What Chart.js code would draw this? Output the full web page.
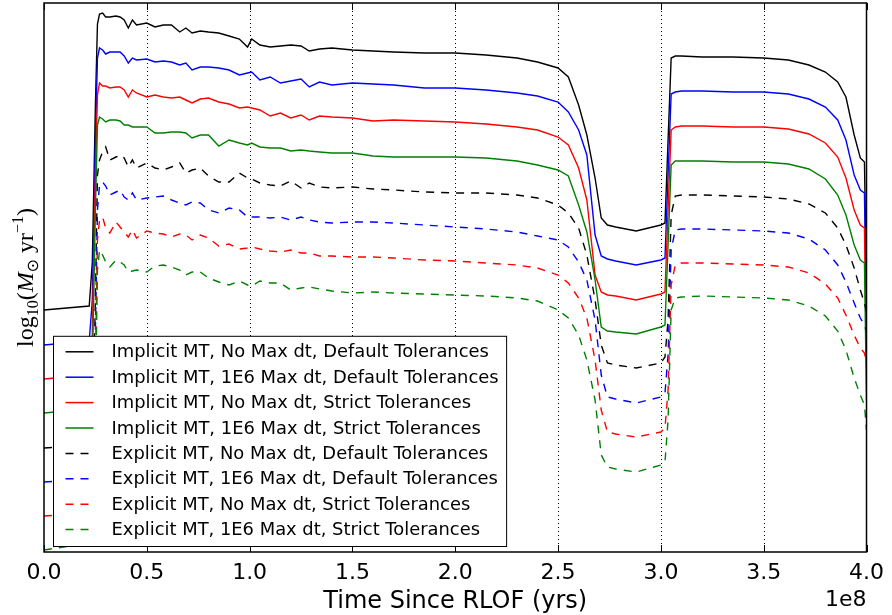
<!DOCTYPE html>
<html>
<head>
<meta charset="utf-8">
<script src="https://cdn.jsdelivr.net/npm/chart.js@4.4.0/dist/chart.umd.min.js"></script>
<style>
  html, body { margin: 0; padding: 0; background: #fff; }
  #wrap { width: 892px; height: 615px; }
</style>
</head>
<body>
<div id="wrap"><canvas id="mt_chart" width="892" height="615"></canvas></div>
<script>
// time since RLOF, in units of 1e8 yr
const times = [
  0, 0.22, 0.235, 0.25, 0.26, 0.27, 0.285, 0.30, 0.32, 0.35, 0.37, 0.39,
  0.41, 0.43, 0.45, 0.50, 0.54, 0.58, 0.62, 0.66, 0.69, 0.72, 0.76, 0.80,
  0.85, 0.90, 0.95, 0.99, 1.01, 1.05, 1.10, 1.15, 1.20, 1.25, 1.29, 1.34,
  1.40, 1.50, 1.60, 1.70, 1.85, 2.00, 2.15, 2.30, 2.40, 2.50, 2.55, 2.60,
  2.64, 2.68, 2.71, 2.74, 2.78, 2.88, 3.00, 3.02, 3.035, 3.05, 3.07, 3.10,
  3.20, 3.35, 3.50, 3.62, 3.72, 3.80, 3.86, 3.90, 3.94, 3.97, 3.99, 4.00
];

// log10 mass transfer rate for each run
const implicitNoMaxDefault = [
  -9.10, -9.06, -8.62, -7.05, -6.24, -6.14, -6.13, -6.17, -6.17, -6.16, -6.17, -6.20,
  -6.28, -6.20, -6.25, -6.23, -6.27, -6.25, -6.25, -6.32, -6.28, -6.33, -6.31, -6.32,
  -6.33, -6.36, -6.39, -6.47, -6.39, -6.45, -6.47, -6.46, -6.45, -6.46, -6.51, -6.49,
  -6.48, -6.50, -6.51, -6.52, -6.53, -6.53, -6.55, -6.58, -6.62, -6.68, -6.77, -7.05,
  -7.35, -7.78, -8.18, -8.25, -8.27, -8.31, -8.25, -8.23, -7.40, -6.58, -6.56, -6.56,
  -6.57, -6.57, -6.58, -6.60, -6.65, -6.72, -6.82, -6.97, -7.35, -7.58, -7.62, -8.90
];
const implicit1e6Default = [
  -9.45, -9.41, -9.00, -7.40, -6.58, -6.48, -6.50, -6.54, -6.52, -6.52, -6.52, -6.56,
  -6.63, -6.58, -6.60, -6.59, -6.62, -6.61, -6.62, -6.65, -6.63, -6.70, -6.67, -6.67,
  -6.68, -6.70, -6.75, -6.73, -6.72, -6.80, -6.77, -6.83, -6.81, -6.79, -6.87, -6.82,
  -6.85, -6.83, -6.84, -6.85, -6.88, -6.88, -6.90, -6.93, -6.96, -7.02, -7.12, -7.30,
  -7.55, -8.35, -8.56, -8.59, -8.61, -8.65, -8.60, -8.58, -7.75, -6.94, -6.92, -6.91,
  -6.91, -6.92, -6.92, -6.94, -6.99, -7.07, -7.20, -7.40, -7.75, -7.90, -7.93, -9.30
];
const implicitNoMaxStrict = [
  -9.79, -9.75, -9.35, -7.75, -6.95, -6.83, -6.86, -6.86, -6.88, -6.87, -6.87, -6.90,
  -6.97, -6.90, -6.93, -6.97, -6.95, -6.97, -6.98, -6.97, -7.00, -7.03, -6.99, -6.98,
  -7.02, -7.04, -7.08, -7.07, -7.08, -7.10, -7.16, -7.13, -7.18, -7.15, -7.20, -7.16,
  -7.17, -7.18, -7.21, -7.20, -7.21, -7.22, -7.24, -7.27, -7.30, -7.37, -7.45, -7.68,
  -8.00, -8.75, -8.92, -8.95, -8.96, -9.00, -8.94, -8.92, -8.10, -7.30, -7.27, -7.26,
  -7.26, -7.27, -7.27, -7.29, -7.34, -7.43, -7.57, -7.78, -8.10, -8.25, -8.28, -9.65
];
const implicit1e6Strict = [
  -10.13, -10.09, -9.70, -8.10, -7.25, -7.17, -7.19, -7.22, -7.20, -7.20, -7.21, -7.25,
  -7.25, -7.27, -7.27, -7.27, -7.33, -7.33, -7.32, -7.32, -7.33, -7.38, -7.35, -7.35,
  -7.46, -7.40, -7.43, -7.45, -7.43, -7.47, -7.48, -7.48, -7.51, -7.50, -7.51, -7.52,
  -7.53, -7.53, -7.56, -7.57, -7.57, -7.57, -7.58, -7.61, -7.65, -7.70, -7.76, -8.05,
  -8.32, -8.80, -9.27, -9.31, -9.32, -9.34, -9.27, -9.25, -8.45, -7.65, -7.61, -7.61,
  -7.61, -7.62, -7.62, -7.64, -7.69, -7.79, -7.95, -8.15, -8.45, -8.60, -8.63, -10.00
];
const explicitNoMaxDefault = [
  -10.48, -10.45, -10.40, -9.00, -7.75, -7.60, -7.52, -7.47, -7.60, -7.57, -7.55, -7.58,
  -7.67, -7.60, -7.68, -7.63, -7.68, -7.70, -7.67, -7.63, -7.73, -7.70, -7.68, -7.76,
  -7.82, -7.82, -7.73, -7.78, -7.79, -7.83, -7.85, -7.86, -7.81, -7.88, -7.83, -7.87,
  -7.88, -7.87, -7.89, -7.90, -7.92, -7.93, -7.93, -7.95, -7.98, -8.05, -8.13, -8.28,
  -8.55, -9.00, -9.45, -9.63, -9.65, -9.68, -9.63, -9.57, -9.20, -8.15, -7.96, -7.95,
  -7.95, -7.96, -7.97, -7.99, -8.04, -8.13, -8.28, -8.45, -8.68, -8.90, -9.03, -9.12
];
const explicit1e6Default = [
  -10.82, -10.79, -10.70, -9.30, -8.10, -7.85, -7.82, -7.86, -7.95, -7.92, -7.90, -7.97,
  -8.00, -7.93, -8.00, -7.98, -7.97, -7.96, -8.00, -8.03, -8.05, -8.02, -8.03, -8.10,
  -8.13, -8.08, -8.10, -8.17, -8.17, -8.17, -8.18, -8.17, -8.20, -8.17, -8.20, -8.22,
  -8.23, -8.22, -8.22, -8.23, -8.25, -8.27, -8.29, -8.32, -8.36, -8.40, -8.47, -8.62,
  -8.80, -9.20, -9.75, -9.97, -9.99, -10.03, -9.97, -9.93, -9.55, -8.50, -8.30, -8.29,
  -8.29, -8.30, -8.31, -8.33, -8.39, -8.50, -8.65, -8.82, -9.03, -9.18, -9.25, -9.32
];
const explicitNoMaxStrict = [
  -11.16, -11.13, -11.05, -9.60, -8.40, -8.20, -8.17, -8.28, -8.33, -8.22, -8.27, -8.32,
  -8.37, -8.30, -8.38, -8.31, -8.33, -8.34, -8.37, -8.34, -8.35, -8.40, -8.35, -8.38,
  -8.46, -8.44, -8.49, -8.48, -8.47, -8.49, -8.51, -8.52, -8.50, -8.53, -8.53, -8.56,
  -8.56, -8.57, -8.57, -8.58, -8.60, -8.61, -8.63, -8.65, -8.68, -8.75, -8.83, -8.98,
  -9.18, -9.60, -10.10, -10.32, -10.34, -10.37, -10.32, -10.28, -9.90, -8.85, -8.65, -8.63,
  -8.63, -8.64, -8.65, -8.67, -8.73, -8.84, -8.98, -9.15, -9.35, -9.48, -9.53, -9.62
];
const explicit1e6Strict = [
  -11.50, -11.43, -11.40, -10.00, -8.70, -8.50, -8.55, -8.62, -8.67, -8.60, -8.62, -8.65,
  -8.72, -8.71, -8.70, -8.72, -8.66, -8.65, -8.67, -8.70, -8.75, -8.72, -8.72, -8.78,
  -8.82, -8.85, -8.81, -8.85, -8.86, -8.81, -8.83, -8.83, -8.90, -8.88, -8.87, -8.89,
  -8.91, -8.93, -8.92, -8.93, -8.94, -8.95, -8.96, -8.98, -9.01, -9.10, -9.18, -9.35,
  -9.60, -10.00, -10.55, -10.67, -10.69, -10.72, -10.65, -10.62, -10.20, -9.10, -8.98, -8.97,
  -8.96, -8.97, -8.98, -9.00, -9.06, -9.16, -9.31, -9.50, -9.78, -9.95, -10.05, -10.30
];

const seriesLabels = [
  "Implicit MT, No Max dt, Default Tolerances",
  "Implicit MT, 1E6 Max dt, Default Tolerances",
  "Implicit MT, No Max dt, Strict Tolerances",
  "Implicit MT, 1E6 Max dt, Strict Tolerances",
  "Explicit MT, No Max dt, Default Tolerances",
  "Explicit MT, 1E6 Max dt, Default Tolerances",
  "Explicit MT, No Max dt, Strict Tolerances",
  "Explicit MT, 1E6 Max dt, Strict Tolerances"
];
const seriesValues = [
  implicitNoMaxDefault, implicit1e6Default, implicitNoMaxStrict, implicit1e6Strict,
  explicitNoMaxDefault, explicit1e6Default, explicitNoMaxStrict, explicit1e6Strict
];
const seriesColors = ["#000000", "#0000ff", "#ff0000", "#008000"];
const xLabel = "Time Since RLOF (yrs)";
const xOffsetText = "1e8";

const DASH = [8, 7];

const datasets = seriesValues.map(function (vals, i) {
  return {
    label: seriesLabels[i],
    data: times.map(function (t, j) { return { x: t, y: vals[j] }; }),
    borderColor: seriesColors[i % 4],
    borderWidth: 1.4,
    borderDash: i < 4 ? [] : DASH,
    pointRadius: 0,
    fill: false,
    tension: 0,
    order: seriesValues.length - i
  };
});

// frame, dotted grid, inside ticks, axis labels and the boxed legend
const mplDecor = {
  id: "mplDecor",
  beforeDatasetsDraw: function (chart) {
    const ctx = chart.ctx, a = chart.chartArea, x = chart.scales.x;
    ctx.save();
    ctx.strokeStyle = "#000";
    ctx.lineWidth = 1;
    ctx.setLineDash([1, 3]);
    x.ticks.forEach(function (t) {
      if (t.value <= x.min || t.value >= x.max) return;
      const px = Math.round(x.getPixelForValue(t.value)) + 0.5;
      ctx.beginPath();
      ctx.moveTo(px, a.top);
      ctx.lineTo(px, a.bottom);
      ctx.stroke();
    });
    ctx.restore();
  },
  afterDatasetsDraw: function (chart) {
    const ctx = chart.ctx, a = chart.chartArea, x = chart.scales.x;
    ctx.save();

    // tick marks on bottom and top
    ctx.strokeStyle = "#000";
    ctx.lineWidth = 1;
    x.ticks.forEach(function (t) {
      const px = Math.round(x.getPixelForValue(t.value)) + 0.5;
      ctx.beginPath();
      ctx.moveTo(px, a.bottom);
      ctx.lineTo(px, a.bottom - 7);
      ctx.moveTo(px, a.top);
      ctx.lineTo(px, a.top + 7);
      ctx.stroke();
    });

    // legend
    const fontPx = 17.9;
    ctx.font = fontPx + "px 'DejaVu Sans'";
    let maxW = 0;
    chart.data.datasets.forEach(function (ds) {
      maxW = Math.max(maxW, ctx.measureText(ds.label).width);
    });
    const rowH = 25.4;
    const boxL = a.left + 9.5, boxB = a.bottom - 5.5;
    const boxH = rowH * chart.data.datasets.length + 7;
    const boxT = boxB - boxH;
    const boxW = 58 + maxW + 8;
    ctx.fillStyle = "#fff";
    ctx.fillRect(boxL, boxT, boxW, boxH);
    ctx.lineWidth = 1;
    ctx.strokeStyle = "#000";
    ctx.strokeRect(boxL, boxT, boxW, boxH);
    ctx.textBaseline = "middle";
    ctx.textAlign = "left";
    chart.data.datasets.forEach(function (ds, i) {
      const cy = boxT + 15.5 + i * rowH;
      ctx.strokeStyle = ds.borderColor;
      ctx.lineWidth = 1.5;
      ctx.setLineDash(ds.borderDash.length ? DASH : []);
      ctx.beginPath();
      ctx.moveTo(boxL + 12, cy);
      ctx.lineTo(boxL + 40, cy);
      ctx.stroke();
      ctx.setLineDash([]);
      ctx.fillStyle = "#000";
      ctx.fillText(ds.label, boxL + 58, cy + 1);
    });

    // axes frame
    ctx.lineWidth = 1.5;
    ctx.strokeStyle = "#000";
    ctx.strokeRect(a.left, a.top, a.right - a.left, a.bottom - a.top);

    // x label and offset text
    ctx.fillStyle = "#000";
    ctx.textBaseline = "alphabetic";
    ctx.font = "24px 'DejaVu Sans'";
    ctx.textAlign = "center";
    ctx.fillText(xLabel, (a.left + a.right) / 2, 608);
    ctx.font = "22px 'DejaVu Sans'";
    ctx.textAlign = "right";
    ctx.fillText(xOffsetText, a.right, 606);

    // y label: log10(M_sun yr^-1)
    const serif = "'Liberation Serif', 'DejaVu Serif', serif";
    const parts = [
      { t: "log", f: "24px " + serif, dy: 0 },
      { t: "10", f: "16px " + serif, dy: 5 },
      { t: "(", f: "24px " + serif, dy: 0 },
      { t: "M", f: "italic 24px " + serif, dy: 0 },
      { t: "\u2299", f: "16px 'DejaVu Sans'", dy: 5 },
      { t: " yr", f: "24px " + serif, dy: 0 },
      { t: "\u22121", f: "16px " + serif, dy: -10 },
      { t: ")", f: "24px " + serif, dy: 0 }
    ];
    let total = 0;
    parts.forEach(function (p) { ctx.font = p.f; p.w = ctx.measureText(p.t).width; total += p.w; });
    ctx.translate(33, (a.top + a.bottom) / 2);
    ctx.rotate(-Math.PI / 2);
    ctx.textAlign = "left";
    let cx = -total / 2;
    parts.forEach(function (p) {
      ctx.font = p.f;
      ctx.fillText(p.t, cx, p.dy);
      cx += p.w;
    });
    ctx.restore();
  }
};

new Chart(document.getElementById("mt_chart").getContext("2d"), {
  type: "line",
  data: { datasets: datasets },
  options: {
    responsive: false,
    animation: false,
    layout: { padding: { left: 44, right: 22, top: 3, bottom: 0 } },
    plugins: { legend: { display: false }, tooltip: { enabled: false } },
    scales: {
      x: {
        type: "linear",
        min: 0,
        max: 4,
        afterFit: function (scale) { scale.height = 63; },
        grid: { display: false, drawTicks: false },
        border: { display: false },
        ticks: {
          stepSize: 0.5,
          padding: 8,
          color: "#000",
          maxRotation: 0,
          autoSkip: false,
          font: { family: "DejaVu Sans", size: 22 },
          callback: function (v) { return v.toFixed(1); }
        }
      },
      y: { display: false, min: -11.52, max: -6.03 }
    }
  },
  plugins: [mplDecor]
});
</script>
</body>
</html>
